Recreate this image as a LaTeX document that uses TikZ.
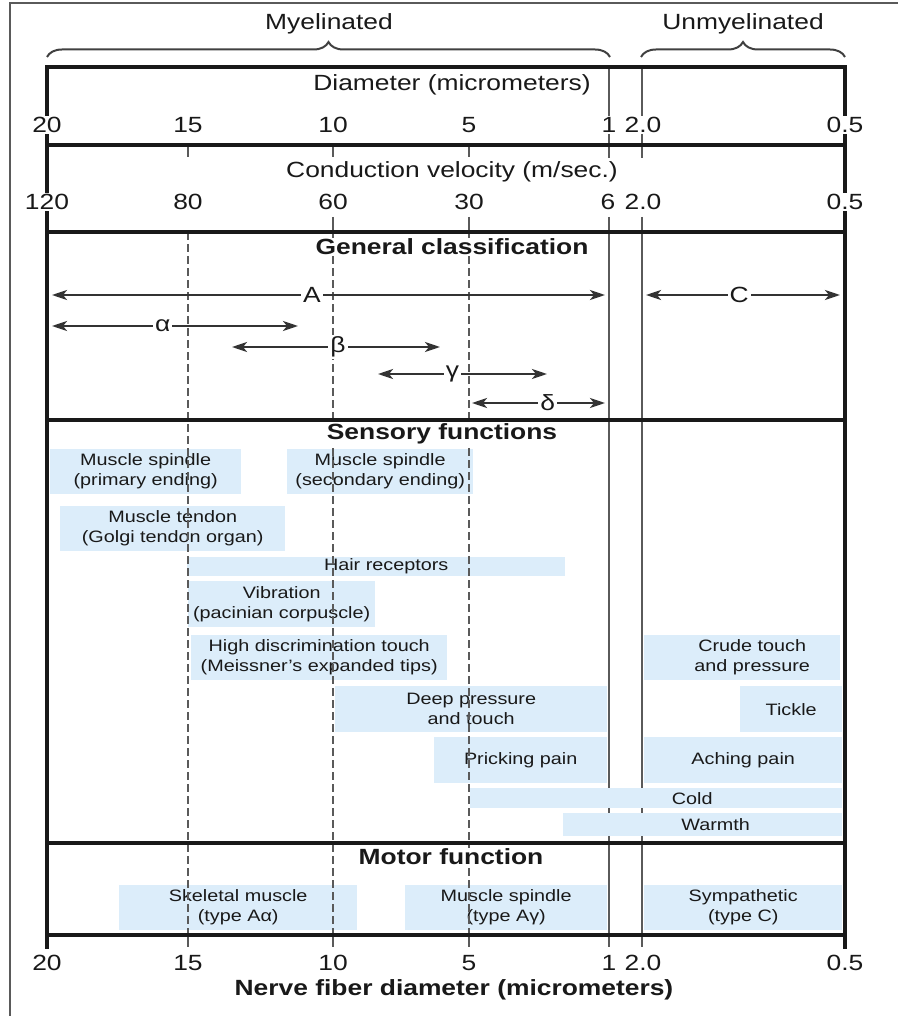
\documentclass[tikz,border=0pt]{standalone}
\usepackage{fontspec}
\setmainfont[FakeStretch=1.2]{Liberation Sans}
\usetikzlibrary{arrows.meta}
\usetikzlibrary{decorations.pathreplacing}
\definecolor{boxblue}{HTML}{DCEDFA}
\definecolor{inkgray}{HTML}{5A5A5A}

\begin{document}
\begin{tikzpicture}[x=1pt,y=-1pt,
		fnbox/.style={
		% The shape:
		rectangle, anchor=north west, inner sep=0pt,
		% The filling:
		fill=boxblue,
		% Font
		font=\fontsize{16.5}{20}\selectfont, align=center, text=black!90
		},
		caption/.style={
		% The filling:
		fill=white, inner sep=1pt,
		% Font
		font=\fontsize{22}{26}\selectfont, text=black!90
		},
		heading/.style={caption, font=\fontsize{22}{26}\selectfont\bfseries},
		scalelabel/.style={caption},
		frame/.style={line width=3.5pt, black!90, line cap=rect},
		rule/.style={line width=2.4pt, inkgray},
		guide/.style={line width=2.2pt, inkgray, dash pattern=on 8pt off 4pt},
		classarrow/.style={line width=2.4pt, black!80, >={Stealth[length=15pt,width=10pt,inset=4pt]}, <->},
		group/.style={line width=2pt, black!75, decorate, decoration={brace, amplitude=15pt}}
	]
	\useasboundingbox (0,0) rectangle (898,1016);

	% outer frame of the page
	\draw [line width=1.5pt, inkgray] (10,1016) -- (10,3) -- (898,3);

	% thin lines at 1 and 2.0
	\foreach \x in {609,642} {
		\draw [rule] (\x,67) -- (\x,158);
		\draw [rule] (\x,217) -- (\x,935);
	}

	% sensory functions
	\node (PRIM)[fnbox, minimum width=191pt, minimum height=45pt] at (50,449) {Muscle spindle\\(primary ending)};
	\node (SEC)[fnbox, minimum width=186pt, minimum height=45pt] at (287,449) {Muscle spindle\\(secondary ending)};
	\node (TEND)[fnbox, minimum width=225pt, minimum height=45pt] at (60,506) {Muscle tendon\\(Golgi tendon organ)};
	\node (HAIR)[fnbox, minimum width=378pt, minimum height=19pt] at (187,557) {\hspace*{20pt}Hair receptors};
	\node (VIB)[fnbox, minimum width=187pt, minimum height=46pt] at (188,581) {Vibration\\(pacinian corpuscle)};
	\node (HIGH)[fnbox, minimum width=256pt, minimum height=45pt] at (191,635) {High discrimination touch\\(Meissner's expanded tips)};
	\node (DEEP)[fnbox, minimum width=272pt, minimum height=46pt] at (335,686) {Deep pressure\\and touch};
	\node (CRUDE)[fnbox, minimum width=196pt, minimum height=45pt] at (644,635) {\hspace*{20pt}Crude touch\\\hspace*{20pt}and pressure};
	\node (TICK)[fnbox, minimum width=102pt, minimum height=46pt] at (740,686) {Tickle};
	\node (PRICK)[fnbox, minimum width=173pt, minimum height=46pt] at (434,737) {Pricking pain};
	\node (ACHE)[fnbox, minimum width=198pt, minimum height=46pt] at (644,737) {Aching pain};
	\node (COLD)[fnbox, minimum width=372pt, minimum height=20pt] at (470,788) {\hspace*{72pt}Cold};
	\node (WARM)[fnbox, minimum width=279pt, minimum height=23pt] at (563,813) {\hspace*{26pt}Warmth};

	% motor function
	\node (SKEL)[fnbox, minimum width=238pt, minimum height=45pt] at (119,885) {Skeletal muscle\\(type Aα)};
	\node (SPIN)[fnbox, minimum width=202pt, minimum height=45pt] at (405,885) {Muscle spindle\\(type Aγ)};
	\node (SYMP)[fnbox, minimum width=198pt, minimum height=45pt] at (644,885) {Sympathetic\\(type C)};

	% dashed guides at 15, 10 and 5
	\foreach \x in {188,333,469} {
		\draw [rule] (\x,145) -- (\x,157);
		\draw [guide] (\x,232) -- (\x,935);
		\draw [rule] (\x,935) -- (\x,947);
	}
	\foreach \x in {333,469} \draw [rule] (\x,217) -- (\x,232);
	\foreach \x in {609,642} \draw [rule] (\x,935) -- (\x,947);

	% table frame
	\draw [frame] (47,67) -- (47,947);
	\draw [frame] (845,67) -- (845,947);
	\foreach \y in {67,145,232,420,843,935}
		\draw [frame] (47,\y) -- (845,\y);

	% scales
	\foreach \x/\t [count=\i] in {47/20,188/15,333/10,469/5,609/1,643/2.0,845/0.5}
		\node (dia-\i)[scalelabel] at (\x,125) {\t};
	\foreach \x/\t [count=\i] in {47/120,188/80,333/60,469/30,608/6,643/2.0,845/0.5}
		\node (vel-\i)[scalelabel] at (\x,202) {\t};
	\foreach \x/\t [count=\i] in {47/20,188/15,333/10,469/5,609/1,643/2.0,845/0.5}
		\node (bot-\i)[scalelabel] at (\x,963) {\t};

	% row titles
	\node (DIAM)[caption] at (452,85) {Diameter (micrometers)};
	\node (VELO)[caption] at (452,172) {Conduction velocity (m/sec.)};
	\node (GEN)[heading] at (452,247) {General classification};
	\node (SENS)[heading] at (442,434) {Sensory functions};
	\node (MOT)[heading] at (451,857) {Motor function};
	\node (NERVE)[heading] at (454,990) {Nerve fiber diameter (micrometers)};

	% fibre classes
	\foreach \nm/\xa/\xb/\yy/\ps/\lab in {A/52/605/295/0.47/A, C/646/840/295/0.48/C,
			al/52/298/326/0.45/α, be/232/440/347/0.51/β, ga/378/547/374/0.44/γ, de/472/605/403/0.57/δ} {
		\coordinate (\nm-l) at (\xa,\yy);
		\coordinate (\nm-r) at (\xb,\yy);
		\draw [classarrow] (\nm-l) -- node[pos=\ps, caption, inner sep=2pt] (\nm-lab) {\lab} (\nm-r);
	}

	% myelinated / unmyelinated
	\coordinate (my-l) at (47,57);
	\coordinate (my-r) at (610,57);
	\coordinate (un-l) at (641,57);
	\coordinate (un-r) at (845,57);
	\draw [group] (my-l) -- (my-r);
	\draw [group] (un-l) -- (un-r);
	\node (MYEL)[caption] at (329,24) {Myelinated};
	\node (UNMY)[caption] at (743,24) {Unmyelinated};
\end{tikzpicture}
\end{document}
